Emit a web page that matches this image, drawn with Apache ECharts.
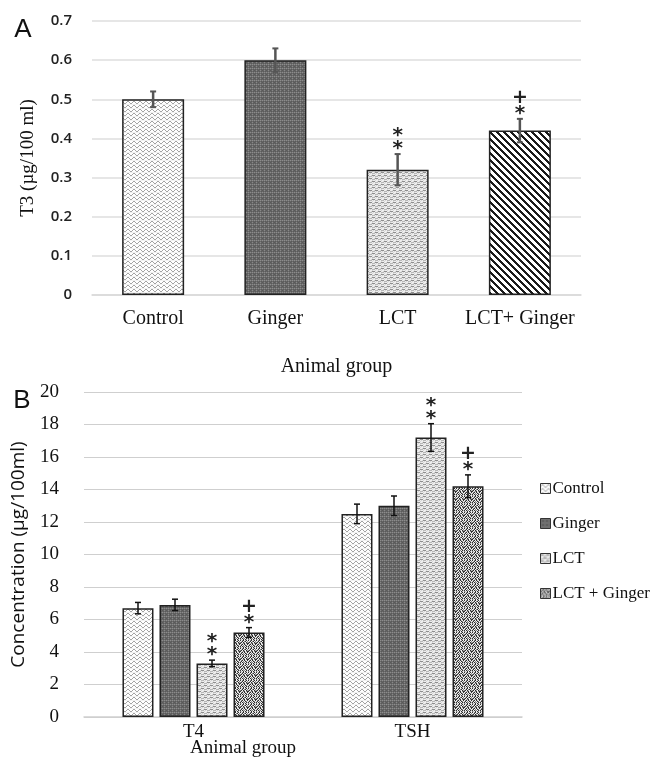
<!DOCTYPE html>
<html>
<head>
<meta charset="utf-8">
<script src="https://cdn.jsdelivr.net/npm/echarts@6/dist/echarts.min.js"></script>
<style>
html,body{margin:0;padding:0;background:#fff;}
#chart{width:656px;height:768px;}
</style>
</head>
<body>
<div id="chart"></div>
<script>
// ---------- Panel A data ----------
const catsA = ['Control', 'Ginger', 'LCT', 'LCT+ Ginger'];
const t3Mean = [0.50, 0.60, 0.32, 0.42];
const t3Err = [0.02, 0.03, 0.04, 0.03];
const t3Mark = ['', '', '**', '+*'];   // symbols listed top to bottom
const yTicksA = [0, 0.1, 0.2, 0.3, 0.4, 0.5, 0.6, 0.7];

// ---------- Panel B data ----------
const catsB = ['T4', 'TSH'];
const groupsB = ['Control', 'Ginger', 'LCT', 'LCT + Ginger'];
const controlB = [6.7, 12.5];
const controlErr = [0.35, 0.6];
const controlMark = ['', ''];
const gingerB = [6.9, 13.0];
const gingerErr = [0.35, 0.6];
const gingerMark = ['', ''];
const lctB = [3.3, 17.2];
const lctErr = [0.2, 0.85];
const lctMark = ['**', '**'];
const lctGB = [5.2, 14.2];
const lctGErr = [0.3, 0.7];
const lctGMark = ['+*', '+*'];
const yTicksB = [0, 2, 4, 6, 8, 10, 12, 14, 16, 18, 20];

const seriesB = [controlB, gingerB, lctB, lctGB];
const errB = [controlErr, gingerErr, lctErr, lctGErr];
const markB = [controlMark, gingerMark, lctMark, lctGMark];

// ---------- Patterns ----------
function pat(w, h, fn) {
  const c = document.createElement('canvas');
  c.width = w; c.height = h;
  const ctx = c.getContext('2d');
  for (let y = 0; y < h; y++) for (let x = 0; x < w; x++) {
    ctx.fillStyle = fn(x, y);
    ctx.fillRect(x, y, 1, 1);
  }
  return { image: c, repeat: 'repeat' };
}
const pControl = pat(6, 4, (x, y) => {
  const wave = [1, 0, 0, 1, 2, 2];
  return (y === wave[x] + 1) ? '#a3a3a3' : (y === 0 ? '#f2f2f2' : '#ffffff');
});
const pGinger = pat(8, 8, (x, y) => {
  if (y === 0 || y === 4) return (x % 2 === 0) ? '#8c8c8c' : '#707070';
  if (x === 0 || x === 4) return (y % 2 === 0) ? '#888888' : '#6a6a6a';
  return ((x + y) % 2 === 0) ? '#5a5a5a' : '#666666';
});
const pLct = pat(6, 6, (x, y) => {
  if ((y === 1 && x < 3) || (y === 4 && x >= 3)) return '#8e8e8e';
  if ((y === 2 && x >= 3) || (y === 5 && x < 3)) return '#b8b8b8';
  return (x + y) % 3 === 0 ? '#d6d6d6' : '#eeeeee';
});
const pDiag = pat(7, 7, (x, y) => (((x - y + 14) % 7) < 3 ? '#1a1a1a' : '#ffffff'));
const speckRows = [
  'DWGDWLDW',
  'WLDWGDWG',
  'GDWDLWDL',
  'DWLGDWGD',
  'WGDWDLWD',
  'LDWGWDGW',
  'DWDLGWDL',
  'GLWDWDLW'
];
const speckCol = { D: '#2e2e2e', W: '#f4f4f4', G: '#858585', L: '#bdbdbd' };
const pSpeck = pat(8, 8, (x, y) => speckCol[speckRows[y][x]]);

const patsA = [pControl, pGinger, pLct, pDiag];
const patsB = [pControl, pGinger, pLct, pSpeck];

const serif = '"Liberation Serif", "Times New Roman", serif';
const sans = '"Open Sans", "Liberation Sans", sans-serif';

const chart = echarts.init(document.getElementById('chart'));

const barWB = 31, gapB = 6;

function markText(list, x, yTop, color) {
  const els = [];
  const syms = list.split('');
  for (let i = 0; i < syms.length; i++) {
    const s = syms[syms.length - 1 - i];
    const isStar = s === '*';
    els.push({
      type: 'text',
      style: {
        text: s, x: x, y: yTop - (isStar ? 5 : 8) - i * 13,
        textAlign: 'center', textVerticalAlign: 'middle',
        font: (isStar ? 'bold 20px ' : 'bold 19px ') + '"DejaVu Sans", sans-serif',
        fill: color
      }
    });
  }
  return els;
}

const customA = {
  type: 'custom', xAxisIndex: 0, yAxisIndex: 0, z: 10,
  data: catsA.map((c, i) => [i, t3Mean[i], t3Err[i]]),
  encode: { x: 0, y: 1 },
  renderItem: function (params, api) {
    const i = params.dataIndex;
    const cat = api.value(0), m = api.value(1), e = api.value(2);
    const top = api.coord([cat, m + e]);
    const bot = api.coord([cat, m - e]);
    const x = top[0];
    const col = '#555555';
    const children = [
      { type: 'line', shape: { x1: x, y1: top[1], x2: x, y2: bot[1] }, style: { stroke: col, lineWidth: 2.5 } },
      { type: 'line', shape: { x1: x - 3, y1: top[1], x2: x + 3, y2: top[1] }, style: { stroke: col, lineWidth: 2 } },
      { type: 'line', shape: { x1: x - 3, y1: bot[1], x2: x + 3, y2: bot[1] }, style: { stroke: col, lineWidth: 2 } }
    ].concat(markText(t3Mark[i], x, top[1], '#222'));
    return { type: 'group', children: children };
  }
};

const customB = {
  type: 'custom', xAxisIndex: 1, yAxisIndex: 1, z: 10,
  data: (function () {
    const d = [];
    for (let s = 0; s < 4; s++) for (let c = 0; c < 2; c++) d.push([c, seriesB[s][c], errB[s][c], s]);
    return d;
  })(),
  encode: { x: 0, y: 1 },
  renderItem: function (params, api) {
    const cat = api.value(0), m = api.value(1), e = api.value(2), s = api.value(3);
    const top = api.coord([cat, m + e]);
    const bot = api.coord([cat, m - e]);
    const x = top[0] + (s - 1.5) * (barWB + gapB);
    const col = '#111111';
    const children = [
      { type: 'line', shape: { x1: x, y1: top[1], x2: x, y2: bot[1] }, style: { stroke: col, lineWidth: 1.5 } },
      { type: 'line', shape: { x1: x - 3, y1: top[1], x2: x + 3, y2: top[1] }, style: { stroke: col, lineWidth: 1.5 } },
      { type: 'line', shape: { x1: x - 3, y1: bot[1], x2: x + 3, y2: bot[1] }, style: { stroke: col, lineWidth: 1.5 } }
    ].concat(markText(markB[s][cat], x, top[1], '#222'));
    return { type: 'group', children: children };
  }
};

const option = {
  animation: false,
  backgroundColor: '#ffffff',
  graphic: [
    { type: 'text', style: { text: 'A', x: 23, y: 30, textAlign: 'center', textVerticalAlign: 'middle', font: '26px "Liberation Sans", sans-serif', fill: '#111' } },
    { type: 'text', style: { text: 'B', x: 22, y: 401, textAlign: 'center', textVerticalAlign: 'middle', font: '26px "Liberation Sans", sans-serif', fill: '#111' } },
    { type: 'text', style: { text: 'Animal group', x: 243, y: 748, textAlign: 'center', textVerticalAlign: 'middle', font: '19px ' + serif, fill: '#111' } }
  ],
  legend: {
    orient: 'vertical',
    left: 535, top: 475,
    icon: 'rect',
    itemWidth: 10, itemHeight: 10, itemGap: 18,
    data: groupsB,
    itemStyle: { borderColor: '#333', borderWidth: 1 },
    textStyle: { fontFamily: serif, fontSize: 17, color: '#111', padding: [0, 0, 0, -3] },
    selectedMode: false
  },
  grid: [
    { left: 92, right: 75, top: 21, bottom: 473 },
    { left: 84, right: 134, top: 392, bottom: 51 }
  ],
  xAxis: [
    {
      type: 'category', gridIndex: 0, data: catsA,
      axisLine: { lineStyle: { color: '#d9d9d9', width: 1.5 } },
      axisTick: { show: false },
      axisLabel: { fontFamily: serif, fontSize: 20, color: '#111', margin: 14, interval: 0 },
      name: 'Animal group', nameLocation: 'middle', nameGap: 62,
      nameTextStyle: { fontFamily: serif, fontSize: 20, color: '#111' }
    },
    {
      type: 'category', gridIndex: 1, data: catsB,
      axisLine: { lineStyle: { color: '#cfcfcf', width: 1.5 } },
      axisTick: { show: false },
      axisLabel: { fontFamily: serif, fontSize: 19, color: '#111', margin: 6, interval: 0 }
    }
  ],
  yAxis: [
    {
      type: 'value', gridIndex: 0, min: 0, max: 0.7, interval: 0.1,
      axisLine: { show: false }, axisTick: { show: false },
      splitLine: { lineStyle: { color: '#dedede', width: 1.5 } },
      axisLabel: { fontFamily: sans, fontSize: 15, fontWeight: 600, color: '#222', margin: 20,
        formatter: v => { const t = yTicksA.find(k => Math.abs(k - v) < 1e-9); return t === undefined ? '' : String(t); } },
      name: 'T3 (µg/100 ml)', nameLocation: 'middle', nameGap: 54,
      nameTextStyle: { fontFamily: serif, fontSize: 19, color: '#111' }
    },
    {
      type: 'value', gridIndex: 1, min: 0, max: 20, interval: 2,
      axisLine: { show: false }, axisTick: { show: false },
      splitLine: { lineStyle: { color: '#cfcfcf', width: 1.2 } },
      axisLabel: { fontFamily: serif, fontSize: 19, color: '#111', margin: 25,
        formatter: v => { const t = yTicksB.find(k => Math.abs(k - v) < 1e-9); return t === undefined ? '' : String(t); } },
      name: 'Concentration (µg/100ml)', nameLocation: 'middle', nameGap: 56,
      nameTextStyle: { fontFamily: sans, fontSize: 19, color: '#111' }
    }
  ],
  series: [
    {
      name: 'T3', type: 'bar', xAxisIndex: 0, yAxisIndex: 0, barWidth: 62,
      data: t3Mean.map((v, i) => ({ value: v, itemStyle: { color: patsA[i] } })),
      itemStyle: { borderColor: '#222', borderWidth: 1.5 }
    }
  ].concat(groupsB.map((g, s) => ({
    name: g, type: 'bar', xAxisIndex: 1, yAxisIndex: 1,
    barWidth: barWB, barGap: (gapB / barWB * 100).toFixed(1) + '%',
    data: seriesB[s],
    itemStyle: { color: patsB[s], borderColor: '#222', borderWidth: 1.5 }
  }))).concat([customA, customB])
};

chart.setOption(option);
</script>
</body>
</html>
